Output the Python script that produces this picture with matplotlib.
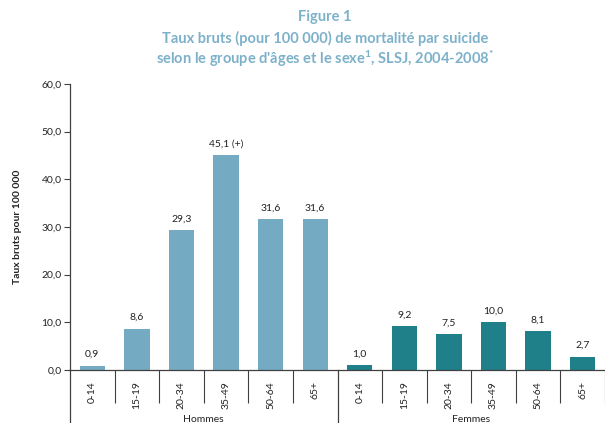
import matplotlib.pyplot as plt
import matplotlib.transforms as mtransforms

plt.rcParams['font.family'] = ['Lato', 'DejaVu Sans']
plt.rcParams['mathtext.fontset'] = 'custom'
plt.rcParams['mathtext.rm'] = 'Lato:bold'
plt.rcParams['mathtext.default'] = 'regular'

# Données
groupes_age = ["0-14", "15-19", "20-34", "35-49", "50-64", "65+"]
hommes = [0.9, 8.6, 29.3, 45.1, 31.6, 31.6]
femmes = [1.0, 9.2, 7.5, 10.0, 8.1, 2.7]
etiquettes_hommes = ["0,9", "8,6", "29,3", "45,1 (+)", "31,6", "31,6"]
etiquettes_femmes = ["1,0", "9,2", "7,5", "10,0", "8,1", "2,7"]
sexes = ["Hommes", "Femmes"]

col_h = "#74abc3"
col_f = "#20808a"
col_titre = "#7db1ca"
col_axe = "#404040"

fig = plt.figure(figsize=(6.05, 4.23), dpi=100)
ax = fig.add_axes([70 / 605, 53 / 423, 535 / 605, 286 / 423])

n = len(groupes_age)
x_h = list(range(n))
x_f = [i + n for i in range(n)]
b1 = ax.bar(x_h, hommes, width=0.57, color=col_h)
b2 = ax.bar(x_f, femmes, width=0.57, color=col_f)

for bars, labs in [(b1, etiquettes_hommes), (b2, etiquettes_femmes)]:
    for b, lab in zip(bars, labs):
        ax.annotate(lab, (b.get_x() + b.get_width() / 2, b.get_height()),
                    xytext=(0, 5), textcoords="offset points",
                    ha="center", va="bottom", fontsize=7.5, color="#222222")

ax.set_xlim(-0.5, -0.5 + 535 / 45.3)
ax.set_ylim(0, 60)
ax.set_yticks(range(0, 61, 10))
ax.set_yticklabels([f"{v:.1f}".replace(".", ",") for v in range(0, 61, 10)],
                   fontsize=7.5, color="#222222")
ax.tick_params(axis="y", length=4, width=0.8, color=col_axe, pad=2)

ax.set_xticks(x_h + x_f)
ax.set_xticklabels(groupes_age * 2, rotation=90, fontsize=7.5, color="#222222")
ax.tick_params(axis="x", length=0, pad=8)
ax.set_xticks([i - 0.5 for i in range(1, 2 * n + 1) if i != n], minor=True)
ax.tick_params(axis="x", which="minor", length=24, width=0.8, color=col_axe)

for s in ["top", "right"]:
    ax.spines[s].set_visible(False)
for s in ["left", "bottom"]:
    ax.spines[s].set_color(col_axe)
    ax.spines[s].set_linewidth(0.9)

# lignes de séparation des groupes
trans = mtransforms.blended_transform_factory(ax.transData, ax.transAxes)
for xs in [-0.5, n - 0.5]:
    ax.plot([xs, xs], [0, -53 / 286], transform=trans, color=col_axe,
            lw=0.9, clip_on=False)
for i, s in enumerate(sexes):
    ax.text(i * n + (n - 1) / 2, -49 / 286, s, transform=trans,
            ha="center", va="center", fontsize=7.5, color="#222222")

ax.set_ylabel("Taux bruts pour 100 000", fontsize=7.5, fontweight="bold",
              color="#222222", labelpad=14)

fig.text(325 / 605, 1 - 17 / 423, "Figure 1", ha="center", va="center",
         fontsize=10.5, fontweight="bold", color=col_titre)
fig.text(325 / 605, 1 - 38 / 423, "Taux bruts (pour 100 000) de mortalité par suicide",
         ha="center", va="center", fontsize=10.5, fontweight="bold", color=col_titre)
fig.text(325 / 605, 1 - 59 / 423,
         "selon le groupe d'âges et le sexe$^{1}$, SLSJ, 2004-2008$^{*}$",
         ha="center", va="center", fontsize=10.5, fontweight="bold", color=col_titre)

fig.savefig("out.png", dpi=100)
